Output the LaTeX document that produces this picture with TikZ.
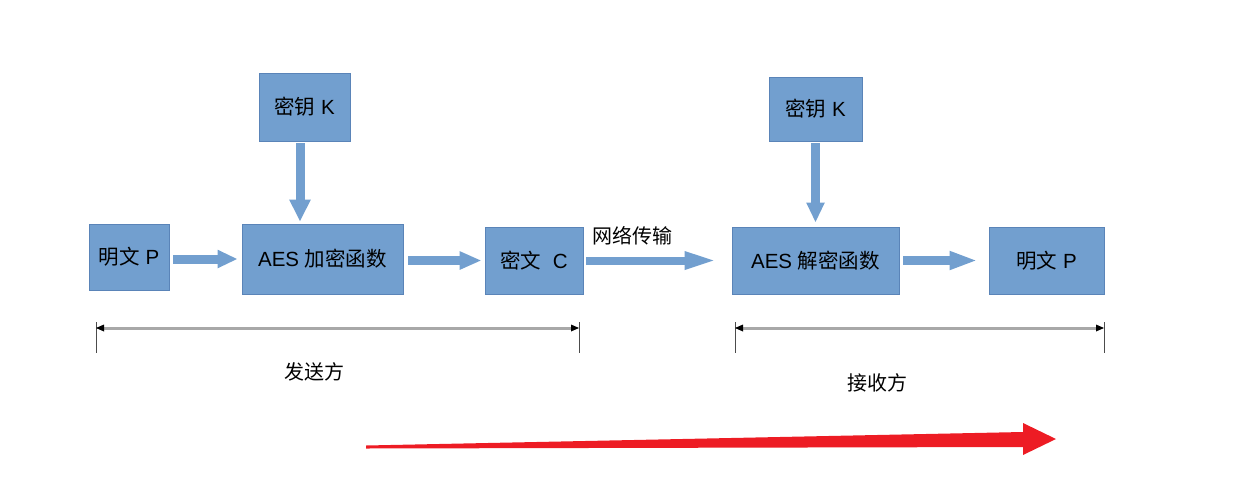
\documentclass[tikz,border=0pt]{standalone}
\usepackage{fontspec}
\setmainfont{Liberation Sans}
\newfontfamily\cjk{Noto Sans CJK SC}
\usetikzlibrary{arrows.meta}
\definecolor{boxfill}{HTML}{729FCF}
\definecolor{boxline}{HTML}{5A84B8}
\definecolor{spanline}{HTML}{A8A8A8}
\definecolor{flowred}{HTML}{ED1C24}
\tikzset{
  box/.style={draw=boxline, line width=0.8pt, fill=boxfill, inner sep=0pt,
    font=\fontsize{20.5}{24}\selectfont, text=black},
  flow/.style={draw=boxfill, line width=#1},
  flow/.default=9pt,
  extentbar/.style={draw=spanline, line width=3pt},
  extenttip/.style={fill=black},
  tick/.style={draw=black!70, line width=0.8pt},
  caption/.style={font=\fontsize{20}{24}\selectfont, text=black, inner sep=0pt}
}
\begin{document}
\begin{tikzpicture}[x=1pt, y=-1pt]
\useasboundingbox (0,0) rectangle (1251,483);

% sender side
\node[box, minimum width=80pt, minimum height=66pt] (p1) at (129,257) {{\cjk 明文} P};
\node[box, minimum width=161pt, minimum height=70pt] (enc) at (322.5,259) {AES {\cjk 加密函数}};
\node[box, minimum width=91pt, minimum height=68pt] (k1) at (304.5,107) {{\cjk 密钥} K};
\node[box, minimum width=98pt, minimum height=67pt] (c) at (534,260.5) {{\cjk 密文}\ \ C};

% receiver side
\node[box, minimum width=167pt, minimum height=67pt] (dec) at (815.5,260.5) {AES {\cjk 解密函数}};
\node[box, minimum width=93pt, minimum height=64pt] (k2) at (815.5,109) {{\cjk 密钥} K};
\node[box, minimum width=115pt, minimum height=67pt] (p2) at (1046.5,260.5) {{\cjk 明文} P};

% block arrows between the stages
\draw[flow, -{Triangle[length=22pt,width=20pt]}, shorten <=2pt, shorten >=2pt]
  ([xshift=-4.5pt]k1.south) -- ([xshift=-4.5pt]k1.south |- enc.north);
\draw[flow, -{Triangle[length=20pt,width=17pt]}, shorten <=4pt, shorten >=4pt]
  (p1.east |- enc.west) -- (enc.west);
\draw[flow, -{Triangle[length=22pt,width=17pt]}, shorten <=5pt, shorten >=3pt]
  (enc.east |- c.west) -- (c.west);
\draw[flow=8pt, -{Triangle[length=33pt,width=16pt]}, shorten <=3pt, shorten >=14pt]
  (c.east) -- (dec.west);
\node[caption] (net) at (632,236) {\cjk 网络传输};
\draw[flow=8.5pt, -{Triangle[length=20pt,width=17pt]}, shorten <=2pt, shorten >=4pt]
  (k2.south) -- (dec.north);
\draw[flow, -{Triangle[length=28pt,width=17pt]}, shorten <=4pt, shorten >=11pt]
  (dec.east) -- (p2.west);

% extent of each party: grey bar between end ticks, small black heads
\coordinate (sl) at (96,328);
\coordinate (sr) at (579,328);
\coordinate (slt) at (96,322);
\coordinate (slb) at (96,353);
\coordinate (srt) at (579,322);
\coordinate (srb) at (579,353);
\draw[tick] (slt) -- (slb);
\draw[tick] (srt) -- (srb);
\draw[extentbar] ([xshift=6pt]sl) -- ([xshift=-6pt]sr);
\fill[extenttip] (sl) -- ++(8,-3.5) -- ++(0,7) -- cycle;
\fill[extenttip] (sr) -- ++(-8,-3.5) -- ++(0,7) -- cycle;
\node[caption] (sender) at (314,372) {\cjk 发送方};

\coordinate (rl) at (735,328);
\coordinate (rr) at (1104,328);
\coordinate (rlt) at (735,322);
\coordinate (rlb) at (735,353);
\coordinate (rrt) at (1104,322);
\coordinate (rrb) at (1104,353);
\draw[tick] (rlt) -- (rlb);
\draw[tick] (rrt) -- (rrb);
\draw[extentbar] ([xshift=6pt]rl) -- ([xshift=-6pt]rr);
\fill[extenttip] (rl) -- ++(8,-3.5) -- ++(0,7) -- cycle;
\fill[extenttip] (rr) -- ++(-8,-3.5) -- ++(0,7) -- cycle;
\node[caption] (receiver) at (877,383) {\cjk 接收方};

% direction of transmission
\fill[flowred] (366,445.5) -- (1023,432) -- (1023,423) -- (1056,439)
  -- (1023,455) -- (1023,447) -- (366,448.5) -- cycle;
\end{tikzpicture}
\end{document}
